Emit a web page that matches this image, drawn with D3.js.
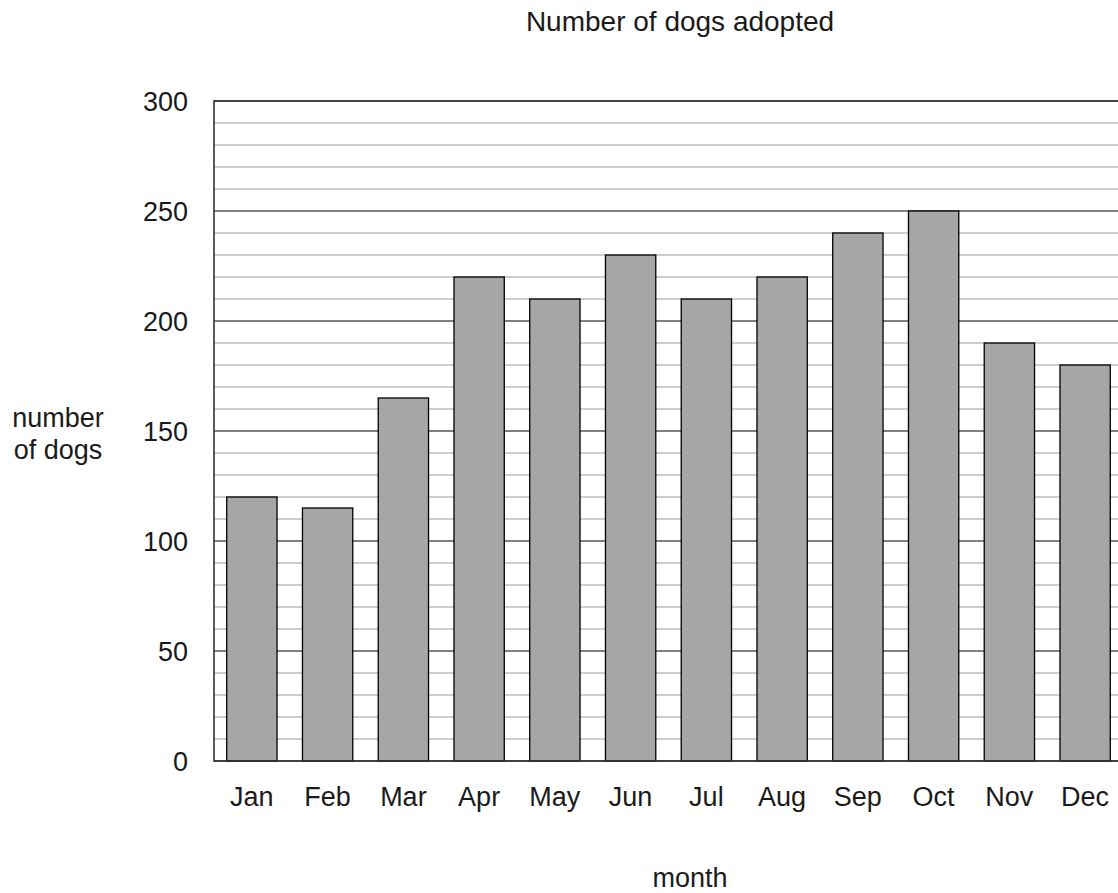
<!DOCTYPE html>
<html><head><meta charset="utf-8">
<script src="https://cdn.jsdelivr.net/npm/d3@7"></script>
<style>html,body{margin:0;padding:0;background:#fff;overflow:hidden}</style>
</head><body>
<script>
const months = ["Jan","Feb","Mar","Apr","May","Jun","Jul","Aug","Sep","Oct","Nov","Dec"];
const dogs = [120,115,165,220,210,230,210,220,240,250,190,180];
const majorTicks = [0,50,100,150,200,250,300];
const minorTicks = d3.range(0,301,10);
const title = "Number of dogs adopted";
const xTitle = "month";
const yTitle = ["number","of dogs"];

const W=1118,H=893;
const pLeft=214,pRight=1123,pTop=101,pBottom=761;
const svg=d3.select("body").append("svg").attr("width",W).attr("height",H)
  .style("font-family","'Liberation Sans', Arial, sans-serif");

const x=d3.scaleBand().domain(months).range([pLeft,pRight]).paddingInner(0.336).paddingOuter(0.168);
const y=d3.scaleLinear().domain([0,300]).range([pBottom,pTop]);

svg.append("g").selectAll("line").data(minorTicks.filter(v=>v%50!==0)).join("line")
  .attr("x1",pLeft).attr("x2",pRight).attr("y1",d=>y(d)).attr("y2",d=>y(d))
  .attr("stroke","#bdbdbd").attr("stroke-width",1.5);
svg.append("g").selectAll("line").data(majorTicks).join("line")
  .attr("x1",pLeft).attr("x2",pRight).attr("y1",d=>y(d)).attr("y2",d=>y(d))
  .attr("stroke","#000").attr("stroke-width",1.2);

svg.append("g").selectAll("rect").data(dogs).join("rect")
  .attr("x",(d,i)=>x(months[i])).attr("width",x.bandwidth())
  .attr("y",d=>y(d)).attr("height",d=>pBottom-y(d))
  .attr("fill","#a6a6a6").attr("stroke","#000").attr("stroke-width",1.3);

svg.append("rect").attr("x",pLeft).attr("y",pTop).attr("width",pRight-pLeft).attr("height",pBottom-pTop)
  .attr("fill","none").attr("stroke","#333").attr("stroke-width",1.6);

const fs=27, col="#1a1a1a";
svg.append("g").selectAll("text").data(majorTicks).join("text")
  .attr("x",188).attr("y",d=>y(d)+10).attr("text-anchor","end")
  .attr("font-size",fs).attr("fill",col).text(d=>d);

svg.append("g").selectAll("text").data(months).join("text")
  .attr("x",d=>x(d)+x.bandwidth()/2).attr("y",806).attr("text-anchor","middle")
  .attr("font-size",fs).attr("fill",col).text(d=>d);

svg.append("text").attr("x",680).attr("y",31).attr("text-anchor","middle")
  .attr("font-size",28).attr("fill",col).text(title);
svg.append("text").attr("x",690).attr("y",887).attr("text-anchor","middle")
  .attr("font-size",fs).attr("fill",col).text(xTitle);
svg.append("g").selectAll("text").data(yTitle).join("text")
  .attr("x",58).attr("y",(d,i)=>427+i*32).attr("text-anchor","middle")
  .attr("font-size",fs).attr("fill",col).text(d=>d);
</script>
</body></html>
